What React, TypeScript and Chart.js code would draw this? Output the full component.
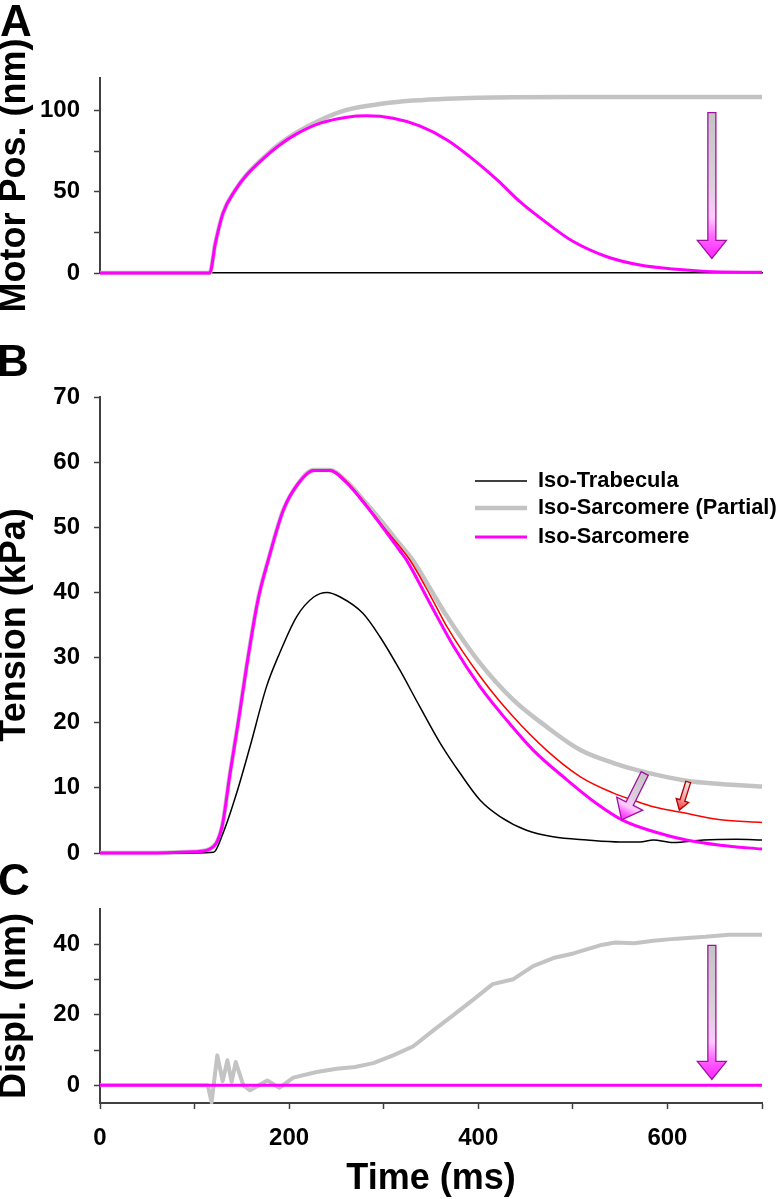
import React, { useEffect, useRef } from "react";
import { Chart, registerables } from "chart.js";

Chart.register(...registerables);

const FONT = '"Liberation Sans", Arial, Helvetica, sans-serif';

// ---------- Panel A : Motor position (nm) ----------
const motorTimeSarc = [0, 50, 100, 116, 122, 130, 143, 155, 173, 190, 208, 233, 261, 282, 310, 338, 367, 391, 420, 444, 472, 500, 536, 571, 606, 641, 700];
const motorSarc = [0, 0, 0, 0, 18.3, 36.7, 51, 60.3, 70.6, 78.8, 85.6, 92.2, 95.9, 96.7, 95.2, 90.5, 81.9, 71.6, 57.3, 43.9, 31, 19.5, 10, 4.9, 2.4, 1.0, 0.4];
const motorTimePartial = [0, 50, 100, 116, 122, 130, 143, 155, 173, 190, 208, 233, 261, 296, 331, 367, 437, 500, 600, 700];
const motorPartial = [0, 0, 0, 0, 18.3, 36.7, 51, 60.5, 71, 79.5, 86.5, 94.2, 100.4, 104, 106.1, 107.3, 108.2, 108.3, 108.3, 108.3];

// ---------- Panel B : Tension (kPa) ----------
const tensionTimeSarc = [0, 50, 100, 116, 129, 137.5, 146, 155, 167, 178, 194, 210, 226, 243, 261, 282, 317, 324, 349, 374, 402, 430, 458, 494, 525, 553, 585, 620, 656, 700];
const tensionSarc = [0, 0, 0.2, 0.6, 4.0, 12.2, 19.9, 28.6, 38.8, 45, 52.7, 56.8, 58.7, 58.7, 56.8, 53.2, 46.4, 45.0, 38.3, 31.7, 25.5, 20.4, 15.8, 11.2, 7.6, 5.0, 3.3, 2.0, 1.2, 0.6];
const tensionTimeTrab = [0, 50, 100, 120, 130, 144.5, 158.6, 176, 190, 208, 226, 240, 254, 278, 296, 317, 338, 360, 381, 402, 423, 451, 479, 515, 550, 571, 585, 606, 638, 673, 700];
const tensionTrab = [0, 0, 0, 0.1, 3.0, 9.2, 16.3, 25.5, 30.7, 36.3, 39.3, 40, 39.3, 36.8, 33.2, 28.1, 22.5, 16.8, 12.2, 8.1, 5.6, 3.5, 2.5, 2.0, 1.7, 1.7, 2.0, 1.6, 2.0, 2.1, 2.0];
const tensionTimePartial = [0, 50, 100, 116, 129, 137.5, 146, 155, 167, 178, 194, 210, 226, 243, 261, 282, 300, 317, 331, 349, 367, 402, 437, 472, 508, 543, 571, 620, 656, 700];
const tensionPartial = [0, 0, 0.2, 0.6, 4.0, 12.2, 19.9, 28.6, 38.8, 45, 52.7, 56.8, 58.8, 58.8, 57.0, 53.6, 50.5, 47.4, 44.9, 40.6, 36.3, 29.1, 23.5, 19.4, 15.8, 13.8, 12.6, 11.1, 10.6, 10.2];
const tensionTimeRed = [0, 50, 100, 116, 129, 137.5, 146, 155, 167, 178, 194, 210, 226, 243, 261, 282, 300, 317, 328, 349, 367, 402, 437, 472, 508, 543, 564, 585, 613, 656, 700];
const tensionRed = [0, 0, 0.2, 0.6, 4.0, 12.2, 19.9, 28.6, 38.8, 45, 52.7, 56.8, 58.8, 58.8, 57.0, 53.4, 50.0, 47.0, 44.9, 39.6, 34.7, 27.1, 20.9, 15.8, 11.7, 9.2, 8.1, 7.1, 6.3, 5.1, 4.7];

// ---------- Panel C : Displacement (nm) ----------
const displTimePartial = [0, 50, 100, 114, 118, 124, 129.7, 134.7, 139.2, 143.5, 151.6, 158.6, 177, 189.6, 204.4, 229, 250.3, 269.6, 289, 310, 331.3, 352.5, 373.6, 394.7, 415.2, 437, 458, 479.3, 500.5, 528.7, 545, 565, 585, 610, 640, 665, 700];
const displPartial = [0, 0, 0, 0, -4.8, 8.5, 1.2, 7.1, 1.0, 6.6, 0, -1.4, 1.4, -0.7, 2.2, 3.8, 4.7, 5.2, 6.3, 8.5, 11.1, 15.6, 19.9, 24.3, 28.7, 30.1, 33.8, 36.1, 37.4, 39.7, 40.5, 40.3, 41.0, 41.6, 42.1, 42.7, 42.7];
const displTimeSarc = [0, 700];
const displSarc = [0, 0];

// ---------- Ticks & labels ----------
const timeTicks = [0, 100, 200, 300, 400, 500, 600, 700];
const timeTickLabels = [0, 200, 400, 600];
const motorTicks = [0, 25, 50, 75, 100];
const motorTickLabels = [0, 50, 100];
const tensionTicks = [0, 10, 20, 30, 40, 50, 60, 70];
const tensionTickLabels = [0, 10, 20, 30, 40, 50, 60, 70];
const displTicks = [0, 10, 20, 30, 40];
const displTickLabels = [0, 20, 40];

const legendLabels = ["Iso-Trabecula", "Iso-Sarcomere (Partial)", "Iso-Sarcomere"];

// ---------- Arrow annotations (data coordinates: time ms, value) ----------
const arrowMotor = { time: [647, 647], value: [98.7, 9.0] };
const arrowTensionSarc = { time: [576, 551.6], value: [12.2, 5.1] };
const arrowTensionRed = { time: [622, 612.6], value: [10.9, 6.6] };
const arrowDispl = { time: [647, 647], value: [39.7, 1.7] };

const MAGENTA = "#ff00ff";
const GRAY = "#c3c3c3";
const AXIS = "#404040";

const pts = (xs: number[], ys: number[]) => xs.map((x, i) => ({ x, y: ys[i] }));

const magentaArrowStyle = {
  shaft: 8, head: 29, headLen: 18, stroke: "#a010a0",
  stops: [[0, "#c4c4c4"], [0.5, "#dcd0dc"], [0.72, "#ffc8ff"], [0.85, "#ff66ff"], [1, "#ff22ff"]],
};
const redArrowStyle = {
  shaft: 5, head: 13, headLen: 10, stroke: "#b00000",
  stops: [[0, "#f4e4e4"], [0.6, "#f0a0a0"], [1, "#ff3030"]],
};

const arrowPlugin = {
  id: "arrows",
  afterDatasetsDraw(chart: any, _args: any, opts: any) {
    const items = (opts && opts.items) || [];
    const ctx = chart.ctx;
    const xs = chart.scales.x;
    const ys = chart.scales.y;
    for (const it of items) {
      const tx = xs.getPixelForValue(it.time[0]);
      const ty = ys.getPixelForValue(it.value[0]);
      const px = xs.getPixelForValue(it.time[1]);
      const py = ys.getPixelForValue(it.value[1]);
      const dx = px - tx, dy = py - ty;
      const len = Math.hypot(dx, dy);
      const ux = dx / len, uy = dy / len;
      const nx = -uy, ny = ux;
      const st = it.style;
      const bx = px - ux * st.headLen, by = py - uy * st.headLen;
      const s = st.shaft / 2, h = st.head / 2;
      ctx.save();
      ctx.beginPath();
      ctx.moveTo(tx + nx * s, ty + ny * s);
      ctx.lineTo(bx + nx * s, by + ny * s);
      ctx.lineTo(bx + nx * h, by + ny * h);
      ctx.lineTo(px, py);
      ctx.lineTo(bx - nx * h, by - ny * h);
      ctx.lineTo(bx - nx * s, by - ny * s);
      ctx.lineTo(tx - nx * s, ty - ny * s);
      ctx.closePath();
      const g = ctx.createLinearGradient(tx, ty, px, py);
      for (const [o, c] of st.stops) g.addColorStop(o, c);
      ctx.fillStyle = g;
      ctx.fill();
      ctx.lineWidth = 1.3;
      ctx.lineJoin = "miter";
      ctx.strokeStyle = st.stroke;
      ctx.stroke();
      ctx.restore();
    }
  },
};

const legendPlugin = {
  id: "inlineLegend",
  afterDraw(chart: any, _args: any, opts: any) {
    if (!opts || !opts.labels) return;
    const ctx = chart.ctx;
    const area = chart.chartArea;
    const x0 = area.left + 375;
    const x1 = area.left + 427;
    const tx = area.left + 438;
    const rows = [84, 111, 140];
    ctx.save();
    ctx.font = `bold 21.8px ${FONT}`;
    ctx.textBaseline = "middle";
    ctx.textAlign = "left";
    opts.labels.forEach((label: string, i: number) => {
      const ds = chart.data.datasets.find((d: any) => d.label === label);
      if (!ds) return;
      const y = area.top + rows[i];
      ctx.beginPath();
      ctx.moveTo(x0, y);
      ctx.lineTo(x1, y);
      ctx.lineWidth = ds.borderWidth;
      ctx.strokeStyle = ds.borderColor;
      ctx.stroke();
      ctx.fillStyle = "#000";
      ctx.fillText(label, tx, y);
    });
    ctx.restore();
  },
};

function yScale(min: number, max: number, tickValues: number[], labelValues: number[], title: string) {
  return {
    type: "linear",
    position: "left",
    min,
    max,
    afterBuildTicks: (s: any) => {
      s.ticks = tickValues.map((v) => ({ value: v }));
    },
    afterFit: (s: any) => {
      s.width = 100;
      s.paddingTop = 0;
      s.paddingBottom = 0;
    },
    ticks: {
      autoSkip: false,
      maxRotation: 0,
      padding: 14,
      color: "#000",
      font: { family: FONT, size: 24, weight: "bold" },
      callback: (v: number) => (labelValues.includes(v) ? String(v) : ""),
    },
    grid: { drawOnChartArea: false, drawTicks: true, tickLength: 6, tickColor: AXIS, tickWidth: 1.5 },
    border: { display: true, color: AXIS, width: 2 },
    title: {
      display: true,
      text: title,
      color: "#000",
      font: { family: FONT, size: 36, weight: "bold", lineHeight: 0.84 },
      padding: { top: 0, bottom: 0 },
    },
  };
}

const lineDs = (label: string, xs: number[], ys: number[], color: string, width: number, smooth = true) => ({
  label,
  data: pts(xs, ys),
  borderColor: color,
  backgroundColor: color,
  borderWidth: width,
  pointRadius: 0,
  pointHoverRadius: 0,
  fill: false,
  clip: false,
  tension: smooth ? 0.4 : 0,
  cubicInterpolationMode: smooth ? "monotone" : "default",
  borderJoinStyle: "round",
});

const baseOptions = (layoutPadding: any, scales: any, pluginOpts: any) => ({
  responsive: false,
  animation: false,
  events: [],
  layout: { padding: layoutPadding },
  scales,
  plugins: {
    legend: { display: false },
    tooltip: { enabled: false },
    ...pluginOpts,
  },
});

function configA() {
  return {
    type: "line",
    data: {
      datasets: [
        lineDs("Iso-Sarcomere", motorTimeSarc, motorSarc, MAGENTA, 3),
        lineDs("Iso-Sarcomere (Partial)", motorTimePartial, motorPartial, GRAY, 4.5),
      ],
    },
    options: baseOptions(
      { top: 78, right: 17, bottom: 57, left: 0 },
      {
        x: {
          type: "linear",
          min: 0,
          max: 700,
          position: "bottom",
          afterFit: (s: any) => {
            s.height = 0;
            s.paddingLeft = 0;
            s.paddingRight = 0;
          },
          ticks: { display: false },
          grid: { drawOnChartArea: false, drawTicks: false },
          border: { display: true, color: "#000", width: 1.5 },
        },
        y: yScale(0, 120, motorTicks, motorTickLabels, "Motor Pos. (nm)"),
      },
      { arrows: { items: [{ ...arrowMotor, style: magentaArrowStyle }] } }
    ),
    plugins: [arrowPlugin],
  };
}

function configB() {
  return {
    type: "line",
    data: {
      datasets: [
        lineDs("Iso-Sarcomere", tensionTimeSarc, tensionSarc, MAGENTA, 3),
        lineDs("Iso-Sarcomere (Red)", tensionTimeRed, tensionRed, "#ff0000", 1.5),
        lineDs("Iso-Trabecula", tensionTimeTrab, tensionTrab, "#000000", 1.5),
        lineDs("Iso-Sarcomere (Partial)", tensionTimePartial, tensionPartial, GRAY, 4.5),
      ],
    },
    options: baseOptions(
      { top: 107, right: 17, bottom: 17, left: 0 },
      {
        x: { type: "linear", min: 0, max: 700, display: false },
        y: yScale(0, 70, tensionTicks, tensionTickLabels, "Tension (kPa)"),
      },
      {
        arrows: {
          items: [
            { ...arrowTensionSarc, style: magentaArrowStyle },
            { ...arrowTensionRed, style: redArrowStyle },
          ],
        },
        inlineLegend: { labels: legendLabels },
      }
    ),
    plugins: [arrowPlugin, legendPlugin],
  };
}

function configC() {
  return {
    type: "line",
    data: {
      datasets: [
        lineDs("Iso-Sarcomere", displTimeSarc, displSarc, MAGENTA, 3, false),
        lineDs("Iso-Sarcomere (Partial)", displTimePartial, displPartial, GRAY, 4, false),
      ],
    },
    options: baseOptions(
      { top: 39, right: 17, bottom: 0, left: 0 },
      {
        x: {
          type: "linear",
          min: 0,
          max: 700,
          position: "bottom",
          afterBuildTicks: (s: any) => {
            s.ticks = timeTicks.map((v) => ({ value: v }));
          },
          afterFit: (s: any) => {
            s.height = 96;
          },
          ticks: {
            autoSkip: false,
            maxRotation: 0,
            padding: 15,
            color: "#000",
            font: { family: FONT, size: 24, weight: "bold" },
            callback: (v: number) => (timeTickLabels.includes(v) ? String(v) : ""),
          },
          grid: { drawOnChartArea: false, drawTicks: true, tickLength: 6, tickColor: AXIS, tickWidth: 1.5 },
          border: { display: true, color: AXIS, width: 2 },
          title: {
            display: true,
            text: "Time (ms)",
            color: "#000",
            font: { family: FONT, size: 36, weight: "bold", lineHeight: 1 },
            padding: { top: 0, bottom: 2 },
          },
        },
        y: yScale(-5, 50, displTicks, displTickLabels, "Displ. (nm)"),
      },
      { arrows: { items: [{ ...arrowDispl, style: magentaArrowStyle }] } }
    ),
    plugins: [arrowPlugin],
  };
}

function Panel({ top, height, makeConfig }: { top: number; height: number; makeConfig: () => any }) {
  const ref = useRef<HTMLCanvasElement>(null);
  useEffect(() => {
    if (!ref.current) return;
    const chart = new Chart(ref.current, makeConfig());
    return () => chart.destroy();
  }, [makeConfig]);
  return (
    <canvas
      ref={ref}
      width={779}
      height={height}
      style={{ position: "absolute", left: 0, top, width: 779, height, display: "block" }}
    />
  );
}

const letterStyle = (top: number, left: number): React.CSSProperties => ({
  position: "absolute",
  top,
  left,
  fontFamily: FONT,
  fontWeight: "bold",
  fontSize: 44,
  lineHeight: "44px",
  color: "#000",
});

export default function App() {
  return (
    <div
      style={{
        position: "absolute",
        left: 0,
        top: 0,
        width: 779,
        height: 1199,
        background: "#ffffff",
        overflow: "hidden",
      }}
    >
      <Panel top={0} height={330} makeConfig={configA} />
      <Panel top={290} height={580} makeConfig={configB} />
      <Panel top={870} height={329} makeConfig={configC} />
      <div style={letterStyle(-1, 0)}>A</div>
      <div style={letterStyle(339, -3)}>B</div>
      <div style={letterStyle(858, -2)}>C</div>
    </div>
  );
}
